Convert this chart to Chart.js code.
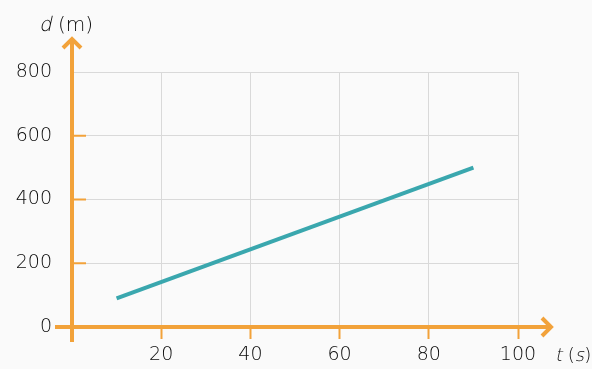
<!DOCTYPE html>
<html>
<head>
<meta charset="utf-8">
<script src="https://cdn.jsdelivr.net/npm/chart.js@4/dist/chart.umd.min.js"></script>
<style>
  html, body { margin: 0; padding: 0; background: #fafafa; }
  #wrap { width: 592px; height: 369px; }
</style>
</head>
<body>
<div id="wrap"><canvas id="chart" width="592" height="369"></canvas></div>
<script>
// Distance travelled over time
const timeSeconds = [10, 90];
const distanceMetres = [90, 500];
const timeTicks = [20, 40, 60, 80, 100];
const distanceTicks = [0, 200, 400, 600, 800];

const ORANGE = '#f2a23a';
const GRID = '#d9d9d9';
const TEXT = '#0a0a0a';
const FONT_FAMILY = '"DejaVu Sans", "Open Sans", sans-serif';
const FONT_WEIGHT = '200';
const FONT_SIZE = 19;

const points = timeSeconds.map((t, i) => ({ x: t, y: distanceMetres[i] }));

// Orange axes with arrowheads, inner tick marks and the axis titles
const arrowAxes = {
  id: 'arrowAxes',
  afterDatasetsDraw(chart) {
    const { ctx, scales: { x, y } } = chart;
    const x0 = x.getPixelForValue(0);
    const y0 = y.getPixelForValue(0);
    const xTip = x.getPixelForValue(100) + 34;
    const yTip = y.getPixelForValue(800) - 34;

    const seg = (ax, ay, bx, by) => {
      ctx.beginPath(); ctx.moveTo(ax, ay); ctx.lineTo(bx, by); ctx.stroke();
    };

    ctx.save();
    ctx.strokeStyle = ORANGE;
    ctx.lineCap = 'butt';

    // short ticks on the inside of the vertical axis
    ctx.lineWidth = 2;
    distanceTicks.filter(v => v > 0 && v < 800).forEach(v => {
      const py = y.getPixelForValue(v);
      seg(x0, py, x0 + 14, py);
    });

    // axis lines
    ctx.lineWidth = 4;
    seg(x0, y0 + 15, x0, yTip + 1);
    seg(x0 - 17, y0, xTip - 1, y0);

    // arrowheads
    ctx.lineJoin = 'miter';
    ctx.beginPath();
    ctx.moveTo(x0 - 9, yTip + 10); ctx.lineTo(x0, yTip + 1); ctx.lineTo(x0 + 9, yTip + 10);
    ctx.stroke();
    ctx.beginPath();
    ctx.moveTo(xTip - 10, y0 - 9); ctx.lineTo(xTip - 1, y0); ctx.lineTo(xTip - 10, y0 + 9);
    ctx.stroke();

    // axis titles: slanted variable letter, upright unit
    const drawTitle = (parts, left, baseline, size) => {
      let cx = left;
      ctx.textBaseline = 'alphabetic';
      ctx.textAlign = 'left';
      ctx.fillStyle = TEXT;
      ctx.font = FONT_WEIGHT + ' ' + size + 'px ' + FONT_FAMILY;
      parts.forEach(([txt, slanted]) => {
        ctx.save();
        ctx.translate(cx, baseline);
        if (slanted) ctx.transform(1, 0, -0.22, 1, 0, 0);
        ctx.fillText(txt, 0, 0);
        ctx.restore();
        cx += ctx.measureText(txt).width;
      });
    };
    drawTitle([['d', true], [' (m)', false]], x0 - 33, yTip - 7, 20);
    drawTitle([['t', true], [' (', false], ['s', true], [')', false]], xTip + 3, y0 + 34, 18);

    ctx.restore();
  }
};

const tickFont = { family: FONT_FAMILY, size: FONT_SIZE, weight: FONT_WEIGHT };

new Chart(document.getElementById('chart'), {
  type: 'line',
  data: {
    datasets: [{
      data: points,
      borderColor: '#3aa7ae',
      borderWidth: 4,
      pointRadius: 0,
      fill: false,
      tension: 0
    }]
  },
  options: {
    responsive: false,
    animation: false,
    layout: { padding: { top: 72, right: 74, left: 0, bottom: 0 } },
    plugins: { legend: { display: false }, tooltip: { enabled: false } },
    scales: {
      x: {
        type: 'linear',
        min: 0,
        max: 100,
        afterBuildTicks: s => { s.ticks = timeTicks.map(v => ({ value: v })); },
        afterFit: s => { s.height = 42; },
        border: { display: false },
        grid: { color: GRID, lineWidth: 1, tickColor: ORANGE, tickLength: 12, tickWidth: 2 },
        ticks: { color: TEXT, font: tickFont, padding: 5, maxRotation: 0 }
      },
      y: {
        type: 'linear',
        min: 0,
        max: 800,
        afterBuildTicks: s => { s.ticks = distanceTicks.map(v => ({ value: v })); },
        afterFit: s => { s.width = 72; },
        border: { display: false },
        grid: { color: GRID, lineWidth: 1, drawTicks: false },
        ticks: { color: TEXT, font: tickFont, padding: 20 }
      }
    }
  },
  plugins: [arrowAxes]
});
</script>
</body>
</html>
